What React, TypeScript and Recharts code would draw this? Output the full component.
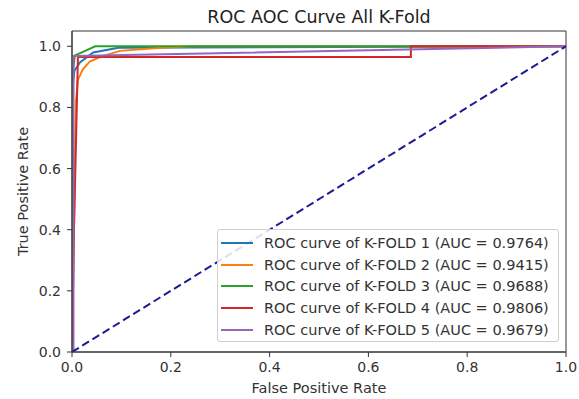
import { LineChart, Line, XAxis, YAxis, ReferenceArea } from 'recharts';

// tab10 colours, same order as the folds
const foldNames = ['K-FOLD 1', 'K-FOLD 2', 'K-FOLD 3', 'K-FOLD 4', 'K-FOLD 5'];
const foldAuc = ['0.9764', '0.9415', '0.9688', '0.9806', '0.9679'];
const foldColors = ['#1f77b4', '#ff7f0e', '#2ca02c', '#d62728', '#9467bd'];

const fold1Fpr = [0, 0, 0.005, 0.016, 0.043, 0.094, 1.0];
const fold1Tpr = [0, 0.85, 0.92, 0.947, 0.98, 0.995, 1.0];
const fold2Fpr = [0, 0.008, 0.012, 0.022, 0.036, 0.057, 0.097, 0.18, 0.245, 1.0];
const fold2Tpr = [0, 0.82, 0.89, 0.925, 0.95, 0.965, 0.985, 0.995, 1.0, 1.0];
const fold3Fpr = [0, 0, 0.006, 0.02, 0.047, 1.0];
const fold3Tpr = [0, 0.9, 0.97, 0.98, 1.0, 1.0];
const fold4Fpr = [0, 0.004, 0.012, 0.686, 0.686, 1.0];
const fold4Tpr = [0, 0.4, 0.965, 0.965, 1.0, 1.0];
const fold5Fpr = [0, 0.003, 0.003, 1.0];
const fold5Tpr = [0, 0, 0.968, 1.0];

const diagFpr = [0, 1];
const diagTpr = [0, 1];

const xTicks = [0, 0.2, 0.4, 0.6, 0.8, 1.0];
const yTicks = [0, 0.2, 0.4, 0.6, 0.8, 1.0];

const toPoints = (fpr: number[], tpr: number[]) => fpr.map((f, i) => ({ fpr: f, tpr: tpr[i] }));

const folds = [
  toPoints(fold1Fpr, fold1Tpr),
  toPoints(fold2Fpr, fold2Tpr),
  toPoints(fold3Fpr, fold3Tpr),
  toPoints(fold4Fpr, fold4Tpr),
  toPoints(fold5Fpr, fold5Tpr),
];
const diagonal = toPoints(diagFpr, diagTpr);

const font = 'DejaVu Sans, sans-serif';
const tickStyle = { fontSize: 14, fill: '#333', fontFamily: font };
const labelStyle = { fontSize: 14.5, fill: '#333', fontFamily: font };

function LegendBox() {
  return (
    <div
      style={{
        position: 'absolute',
        left: 217,
        top: 229,
        border: '1px solid #d0d0d0',
        borderRadius: 3,
        background: 'rgba(255,255,255,0.85)',
        padding: '2px 4px 1px 3px',
        fontFamily: font,
        fontSize: 14.5,
        color: '#333',
        width: 342,
        boxSizing: 'border-box',
        whiteSpace: 'nowrap',
      }}
    >
      {foldNames.map((name, i) => (
        <div key={name} style={{ display: 'flex', alignItems: 'center', height: 21.7 }}>
          <span style={{ width: 32, height: 2, background: foldColors[i], marginRight: 11, flexShrink: 0 }} />
          <span>{`ROC curve of ${name} (AUC = ${foldAuc[i]})`}</span>
        </div>
      ))}
    </div>
  );
}

export default function App() {
  return (
    <div style={{ position: 'absolute', left: 0, top: 0, width: 579, height: 399, background: '#fff' }}>
      <div
        style={{
          position: 'absolute',
          top: 7,
          left: 72,
          width: 494,
          textAlign: 'center',
          fontFamily: font,
          fontSize: 17.5,
          color: '#222',
          whiteSpace: 'nowrap',
        }}
      >
        ROC AOC Curve All K-Fold
      </div>
      <LineChart width={579} height={399} margin={{ top: 31, right: 13, bottom: 0, left: 0 }}>
        <XAxis
          dataKey="fpr"
          type="number"
          domain={[0, 1]}
          ticks={xTicks}
          tickFormatter={(v: number) => v.toFixed(1)}
          allowDataOverflow
          height={47}
          tick={tickStyle}
          tickSize={5}
          tickMargin={5}
          stroke="#333"
          label={{ value: 'False Positive Rate', position: 'insideBottom', offset: 6, style: labelStyle }}
        />
        <YAxis
          dataKey="tpr"
          type="number"
          domain={[0, 1.05]}
          ticks={yTicks}
          tickFormatter={(v: number) => v.toFixed(1)}
          allowDataOverflow
          width={72}
          tick={tickStyle}
          tickSize={5}
          tickMargin={6}
          stroke="#333"
          label={{ value: 'True Positive Rate', angle: -90, position: 'insideLeft', offset: 23, style: { ...labelStyle, textAnchor: 'middle' } }}
        />
        <ReferenceArea x1={0} x2={1} y1={0} y2={1.05} fill="none" stroke="#333" strokeWidth={1} ifOverflow="visible" />
        {folds.map((pts, i) => (
          <Line
            key={foldNames[i]}
            data={pts}
            dataKey="tpr"
            type="linear"
            stroke={foldColors[i]}
            strokeWidth={2}
            dot={false}
            isAnimationActive={false}
          />
        ))}
        <Line
          data={diagonal}
          dataKey="tpr"
          type="linear"
          stroke="#1c1c96"
          strokeWidth={2}
          strokeDasharray="8 4"
          dot={false}
          isAnimationActive={false}
        />
      </LineChart>
      <LegendBox />
    </div>
  );
}
